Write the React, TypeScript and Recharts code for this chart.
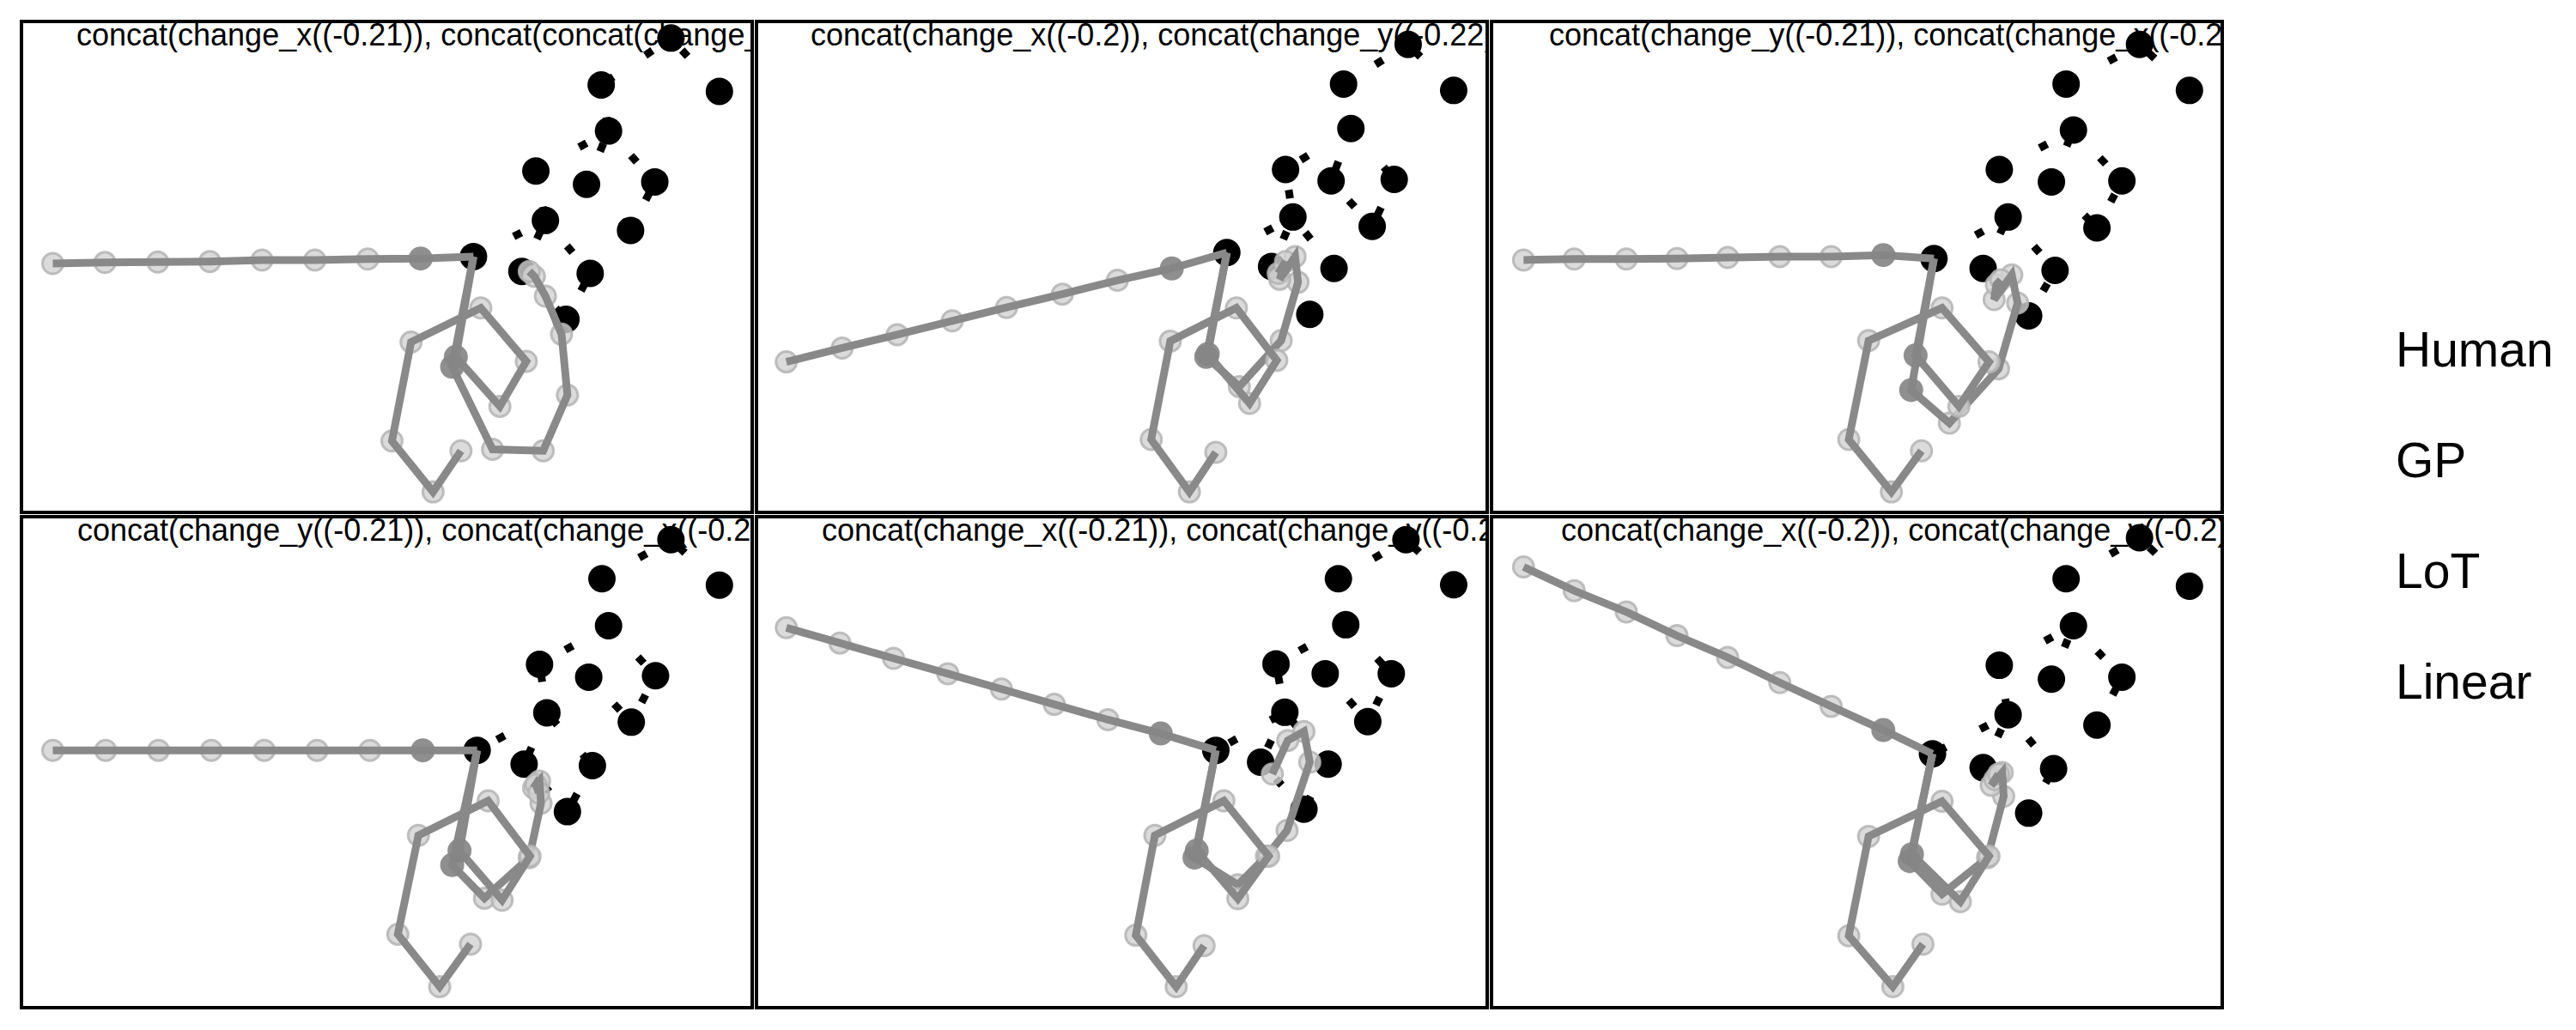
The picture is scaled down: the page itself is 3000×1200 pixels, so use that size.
import React from 'react';
import { ScatterChart, Scatter, XAxis, YAxis } from 'recharts';

type Pt = [number, number];

// human points A..M, the observed sequence
const P1_HUMAN: Pt[] = [[88.7, 96.3], [95.3, 85.5], [79.2, 86.8], [80.2, 77.5], [70.3, 69.4], [77.2, 66.7], [86.5, 67.2], [71.6, 59.4], [83.2, 57.4], [61.8, 52.1], [68.4, 49.1], [77.7, 48.7], [74.4, 39.4]];
const P2_HUMAN: Pt[] = [[89.0, 95.0], [95.2, 85.7], [80.2, 87.0], [81.2, 78.0], [72.3, 69.7], [78.5, 67.4], [87.1, 67.7], [73.3, 60.1], [84.1, 58.2], [64.3, 52.9], [70.4, 50.1], [78.9, 49.7], [75.6, 40.4]];
const P3_HUMAN: Pt[] = [[88.5, 95.0], [95.3, 85.7], [78.5, 87.0], [79.5, 77.7], [69.4, 69.7], [76.5, 67.2], [86.1, 67.4], [70.6, 60.1], [82.7, 57.9], [60.5, 51.7], [67.2, 49.7], [77.0, 49.3], [73.4, 40.1]];
const P4_HUMAN: Pt[] = [[88.7, 95.0], [95.3, 85.8], [79.3, 87.1], [80.2, 77.6], [70.8, 69.8], [77.5, 67.2], [86.6, 67.5], [71.8, 60.0], [83.3, 58.1], [62.3, 52.4], [68.7, 49.6], [78.0, 49.3], [74.6, 40.0]];
const P5_HUMAN: Pt[] = [[88.7, 95.0], [95.2, 85.9], [79.5, 87.1], [80.5, 77.8], [71.0, 69.9], [77.7, 67.9], [86.7, 67.9], [72.2, 60.1], [83.5, 58.2], [62.8, 52.4], [68.9, 50.0], [78.1, 49.6], [74.8, 40.5]];
const P6_HUMAN: Pt[] = [[88.5, 95.4], [95.3, 85.6], [78.5, 87.1], [79.5, 77.6], [69.4, 69.6], [76.5, 66.8], [86.1, 67.2], [70.6, 59.6], [82.7, 57.5], [60.3, 51.7], [67.2, 48.9], [76.8, 48.7], [73.4, 39.7]];

// order in which the dotted line visits the human points (ends on J)
const HUMAN_ORDER = [1, 0, 2, 3, 6, 8, 5, 3, 4, 7, 11, 12, 10, 7, 9];

// model predictions, continuing from the last human point
const P1_LINEAR: Pt[] = [[54.6, 51.7], [47.4, 51.6], [40.2, 51.4], [33.0, 51.4], [25.9, 51.1], [18.8, 51.0], [11.6, 50.9], [4.5, 50.7]];
const P2_LINEAR: Pt[] = [[56.8, 49.7], [49.4, 47.3], [41.9, 44.5], [34.3, 41.8], [26.9, 39.1], [19.4, 36.3], [11.9, 33.6], [4.3, 30.8]];
const P3_LINEAR: Pt[] = [[53.6, 52.4], [46.5, 52.1], [39.5, 52.1], [32.4, 51.9], [25.5, 51.7], [18.6, 51.6], [11.5, 51.6], [4.6, 51.4]];
const P4_LINEAR: Pt[] = [[54.9, 52.4], [47.7, 52.4], [40.5, 52.4], [33.3, 52.4], [26.1, 52.4], [18.9, 52.4], [11.7, 52.4], [4.5, 52.4]];
const P5_LINEAR: Pt[] = [[55.3, 55.8], [48.1, 58.6], [40.8, 61.7], [33.6, 64.8], [26.3, 67.9], [18.9, 71.0], [11.6, 74.1], [4.3, 77.2]];
const P6_LINEAR: Pt[] = [[53.6, 56.5], [46.5, 61.3], [39.5, 66.1], [32.4, 71.2], [25.5, 75.6], [18.6, 80.4], [11.5, 84.7], [4.6, 89.5]];

const P1_LOT: Pt[] = [[59.4, 31.8], [65.4, 21.8], [69.0, 30.9], [62.8, 41.7], [53.3, 34.8], [50.7, 14.8], [56.3, 4.5], [60.1, 12.8]];
const P2_LOT: Pt[] = [[61.7, 32.4], [67.4, 22.4], [71.1, 31.1], [65.6, 41.7], [56.6, 35.0], [54.0, 15.1], [59.2, 4.5], [62.8, 12.5]];
const P3_LOT: Pt[] = [[58.0, 32.1], [63.9, 21.8], [68.0, 30.8], [61.6, 41.7], [51.6, 35.1], [48.9, 15.1], [54.7, 4.5], [58.8, 12.8]];
const P4_LOT: Pt[] = [[59.9, 32.1], [65.7, 22.1], [69.5, 31.0], [63.8, 42.2], [54.3, 35.2], [51.5, 15.2], [57.2, 4.6], [61.4, 13.2]];
const P5_LOT: Pt[] = [[60.2, 32.1], [65.8, 22.4], [70.0, 31.0], [63.9, 42.2], [54.5, 35.2], [51.9, 15.0], [57.4, 4.6], [61.2, 12.9]];
const P6_LOT: Pt[] = [[57.5, 31.4], [64.1, 21.8], [68.0, 31.0], [61.6, 42.1], [51.6, 35.0], [48.9, 14.9], [54.9, 4.6], [59.0, 13.2]];

const P1_GP: Pt[] = [[58.9, 29.8], [64.4, 13.1], [71.3, 12.8], [74.6, 24.1], [73.8, 36.4], [71.6, 44.1], [70.1, 48.1], [69.4, 49.1]];
const P2_GP: Pt[] = [[61.5, 31.8], [66.0, 25.8], [71.7, 35.1], [74.0, 46.9], [73.6, 52.1], [71.5, 47.5], [72.3, 51.1], [71.3, 48.7]];
const P3_GP: Pt[] = [[57.4, 25.1], [62.6, 18.4], [69.3, 29.4], [71.9, 42.7], [71.1, 48.4], [68.7, 43.4], [69.0, 46.4], [69.6, 47.4]];
const P4_GP: Pt[] = [[58.9, 29.2], [63.3, 22.5], [69.4, 30.7], [71.0, 41.7], [70.8, 46.2], [70.0, 44.8], [70.3, 45.5], [70.7, 43.8]];
const P5_GP: Pt[] = [[59.9, 30.7], [65.8, 25.2], [69.7, 31.0], [72.5, 36.2], [75.6, 50.0], [74.8, 56.2], [72.6, 54.4], [70.5, 47.6]];
const P6_GP: Pt[] = [[57.2, 30.0], [61.6, 23.3], [67.8, 30.7], [70.0, 43.1], [69.8, 47.9], [68.3, 45.3], [68.8, 46.5], [69.3, 47.6]];

const TITLES = [
  'concat(change_x((-0.21)), concat(concat(change_',
  'concat(change_x((-0.2)), concat(change_y((-0.22))',
  'concat(change_y((-0.21)), concat(change_x((-0.21',
  'concat(change_y((-0.21)), concat(change_x((-0.2))',
  'concat(change_x((-0.21)), concat(change_y((-0.2',
  'concat(change_x((-0.2)), concat(change_y((-0.2))',
];

const LEGEND_LABELS = ['Human', 'GP', 'LoT', 'Linear'];

const HUMANS = [P1_HUMAN, P2_HUMAN, P3_HUMAN, P4_HUMAN, P5_HUMAN, P6_HUMAN];
const LINEARS = [P1_LINEAR, P2_LINEAR, P3_LINEAR, P4_LINEAR, P5_LINEAR, P6_LINEAR];
const LOTS = [P1_LOT, P2_LOT, P3_LOT, P4_LOT, P5_LOT, P6_LOT];
const GPS = [P1_GP, P2_GP, P3_GP, P4_GP, P5_GP, P6_GP];

// layout
const PANEL_W = 855;
const PANEL_H = 576;
const TITLE_LEFT = [66, 65, 69, 67, 78, 83];
const FONT = '"Liberation Sans", Arial, Helvetica, sans-serif';
const GRAY = '#898989';

const toPts = (arr: Pt[]) => arr.map(([x, y]) => ({ x, y }));

const noShape = () => <g />;
const blackDot = (p: any) => <circle cx={p.cx} cy={p.cy} r={16} fill="#000" />;
const darkDot = (p: any) => <circle cx={p.cx} cy={p.cy} r={14} fill="#858585" fillOpacity={0.92} />;
const lightDot = (p: any) => (
  <circle cx={p.cx} cy={p.cy} r={12} fill="#d2d2d2" fillOpacity={0.8} stroke="#b4b4b4" strokeOpacity={0.85} strokeWidth={3} />
);

function Panel({ idx }: { idx: number }) {
  const human = toPts(HUMANS[idx]);
  const path = HUMAN_ORDER.map((i) => human[i]);
  const last = path[path.length - 1];
  const preds = [LINEARS[idx], GPS[idx], LOTS[idx]].map(toPts);

  const col = idx % 3;
  const row = Math.floor(idx / 3);

  return (
    <div
      style={{
        position: 'absolute',
        left: 23 + col * 856,
        top: 23 + row * 577,
        width: PANEL_W,
        height: PANEL_H,
        overflow: 'hidden',
      }}
    >
      <div
        style={{
          position: 'absolute',
          left: TITLE_LEFT[idx],
          top: 0,
          fontSize: 36,
          lineHeight: '36px',
          whiteSpace: 'nowrap',
          fontFamily: FONT,
          color: '#000',
        }}
      >
        {TITLES[idx]}
      </div>
      <div style={{ position: 'absolute', left: 0, top: 0 }}>
        <ScatterChart width={PANEL_W} height={PANEL_H} margin={{ top: 0, right: 0, bottom: 0, left: 0 }}>
          <XAxis type="number" dataKey="x" domain={[0, 100]} hide height={0} />
          <YAxis type="number" dataKey="y" domain={[0, 100]} hide width={0} />
          <Scatter
            data={path}
            shape={noShape}
            line={{ stroke: '#000', strokeWidth: 9, strokeDasharray: '10 45' }}
            lineType="joint"
            isAnimationActive={false}
          />
          <Scatter data={human} shape={blackDot} isAnimationActive={false} />
          {preds.map((p, k) => (
            <React.Fragment key={k}>
              <Scatter data={p.slice(1)} shape={lightDot} isAnimationActive={false} />
              <Scatter
                data={[last, ...p]}
                shape={noShape}
                line={{ stroke: GRAY, strokeWidth: 9 }}
                lineType="joint"
                isAnimationActive={false}
              />
              <Scatter data={p.slice(0, 1)} shape={darkDot} isAnimationActive={false} />
            </React.Fragment>
          ))}
        </ScatterChart>
      </div>
      <div
        style={{
          position: 'absolute',
          left: 0,
          top: 0,
          width: PANEL_W,
          height: PANEL_H,
          border: '4px solid #000',
          boxSizing: 'border-box',
          pointerEvents: 'none',
        }}
      />
    </div>
  );
}

export default function App() {
  return (
    <div style={{ position: 'absolute', left: 0, top: 0, width: 3000, height: 1200, background: '#fff', fontFamily: FONT }}>
      {HUMANS.map((_, i) => (
        <Panel key={i} idx={i} />
      ))}
      {LEGEND_LABELS.map((label, i) => (
        <div
          key={label}
          style={{
            position: 'absolute',
            left: 2790,
            top: 379 + i * 129,
            fontSize: 57,
            lineHeight: '57px',
            color: '#000',
            whiteSpace: 'nowrap',
          }}
        >
          {label}
        </div>
      ))}
    </div>
  );
}
